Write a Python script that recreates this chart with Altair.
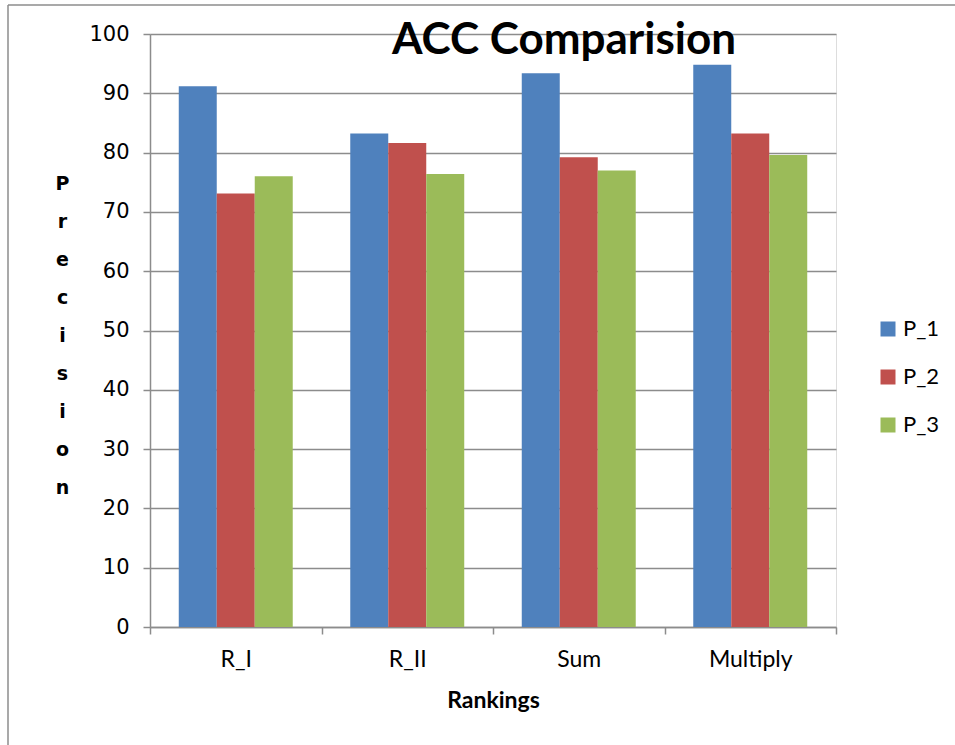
import altair as alt
import pandas as pd

# Rankings on the x axis, three precision series per ranking
rankings = ["R_I", "R_II", "Sum", "Multiply"]
series = ["P_1", "P_2", "P_3"]
p1_values = [91.2, 83.2, 93.4, 94.8]
p2_values = [73.1, 81.6, 79.2, 83.2]
p3_values = [76.0, 76.4, 77.0, 79.6]
colors = ["#4F81BD", "#C0504D", "#9BBB59"]
y_ticks = [0, 10, 20, 30, 40, 50, 60, 70, 80, 90, 100]

rows = []
for name, vals in zip(series, [p1_values, p2_values, p3_values]):
    for r, v in zip(rankings, vals):
        rows.append({"Ranking": r, "Series": name, "Precision": v})
df = pd.DataFrame(rows)

W, H = 686, 593
grey = "#8c8c8c"

bars = alt.Chart(df).mark_bar().encode(
    x=alt.X(
        "Ranking:N",
        sort=rankings,
        scale=alt.Scale(paddingInner=0, paddingOuter=0),
        axis=alt.Axis(
            title="Rankings",
            labelAngle=0,
            labelFont="Lato",
            labelFontSize=23,
            labelColor="#000000",
            labelPadding=14,
            titleFont="Lato",
            titleFontSize=23,
            titleFontWeight="bold",
            titleColor="#000000",
            titlePadding=18,
            tickBand="extent",
            tickSize=7,
            tickColor=grey,
            tickWidth=1.5,
            domainColor=grey,
            domainWidth=1.5,
        ),
    ),
    xOffset=alt.XOffset(
        "Series:N",
        sort=series,
        scale=alt.Scale(paddingInner=0, paddingOuter=0.757),
    ),
    y=alt.Y(
        "Precision:Q",
        scale=alt.Scale(domain=[0, 100], nice=False),
        axis=alt.Axis(
            values=y_ticks,
            title=list("Precision"),
            titleAngle=0,
            titleFont="DejaVu Sans",
            titleFontSize=19,
            titleFontWeight="bold",
            titleColor="#000000",
            titleLineHeight=38,
            titleAlign="center",
            titleBaseline="top",
            titleX=-88,
            titleY=140,
            labelFont="DejaVu Sans",
            labelFontSize=21,
            labelColor="#000000",
            labelPadding=14,
            tickSize=7,
            tickColor=grey,
            tickWidth=1.5,
            domainColor=grey,
            domainWidth=1.5,
            grid=True,
            gridColor=grey,
            gridWidth=1.5,
        ),
    ),
    color=alt.Color(
        "Series:N",
        sort=series,
        scale=alt.Scale(domain=series, range=colors),
        legend=alt.Legend(
            title=None,
            orient="none",
            legendX=727,
            legendY=284,
            symbolType="square",
            symbolSize=225,
            symbolStrokeWidth=0,
            labelFont="Lato",
            labelFontSize=22,
            labelColor="#000000",
            labelOffset=4,
            rowPadding=26,
        ),
    ),
)

# Outer frame of the chart: top and left border lines
frame_src = pd.DataFrame({"k": [0]})
frame_top = alt.Chart(frame_src).mark_rule(color=grey, strokeWidth=1.5).encode(
    x=alt.value(-142), x2=alt.value(810), y=alt.value(-29)
)
frame_left = alt.Chart(frame_src).mark_rule(color=grey, strokeWidth=1.5).encode(
    x=alt.value(-142), y=alt.value(-29), y2=alt.value(715)
)

chart = alt.layer(bars, frame_top, frame_left).properties(
    width=W,
    height=H,
    title=alt.TitleParams(
        "ACC Comparision",
        font="Lato",
        fontSize=44,
        fontWeight="bold",
        color="#000000",
        anchor="middle",
        baseline="alphabetic",
        offset=0,
        dx=71,
        dy=94,
    ),
    autosize=alt.AutoSizeParams(type="none"),
    padding={"left": 150, "top": 34, "right": 119, "bottom": 118},
).configure_view(stroke=None).configure(background="#ffffff")

chart.save("out.html", embed_options={"renderer": "svg", "actions": False})
